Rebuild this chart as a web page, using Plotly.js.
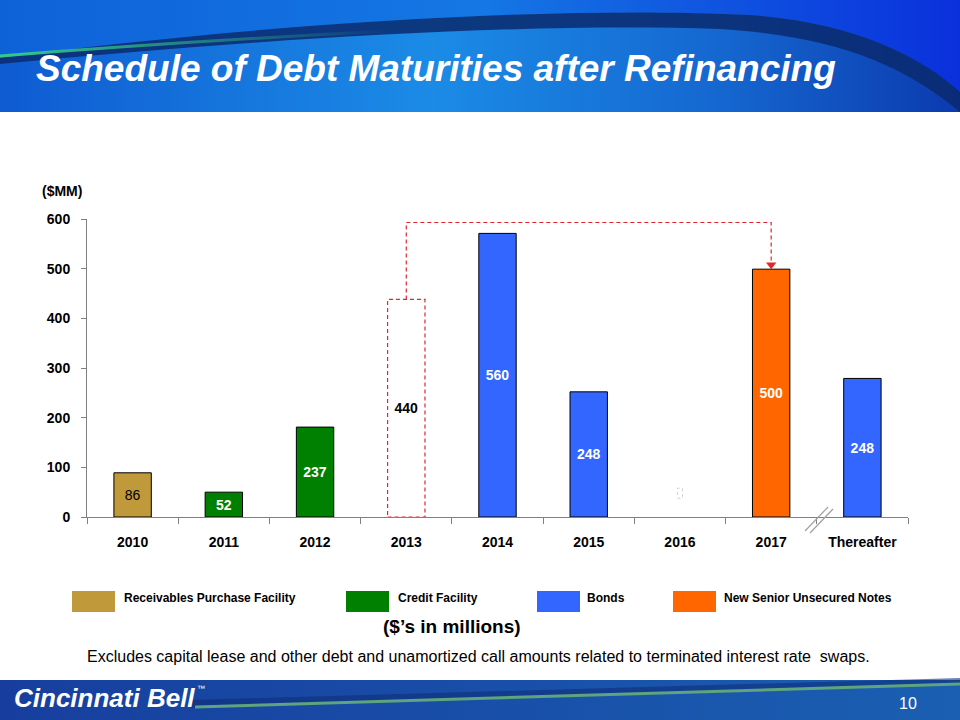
<!DOCTYPE html>
<html>
<head>
<meta charset="utf-8">
<script src="https://cdn.plot.ly/plotly-3.0.1.min.js"></script>
<style>
  html, body { margin: 0; padding: 0; background: #ffffff; }
  #wrap { position: relative; width: 960px; height: 720px; overflow: hidden; background: #ffffff; }
  #bg { position: absolute; left: 0; top: 0; }
  #chart { position: absolute; left: 0; top: 0; width: 960px; height: 720px; }
</style>
</head>
<body>
<div id="wrap">
  <svg id="bg" width="960" height="720" xmlns="http://www.w3.org/2000/svg">
    <defs>
      <linearGradient id="hdr" x1="0" y1="0" x2="1" y2="0">
        <stop offset="0" stop-color="#0f5bd2"/>
        <stop offset="0.45" stop-color="#1b8be6"/>
        <stop offset="0.75" stop-color="#1567d0"/>
        <stop offset="1" stop-color="#0c3aae"/>
      </linearGradient>
      <linearGradient id="hdrTop" x1="0" y1="0" x2="1" y2="0">
        <stop offset="0" stop-color="#0e62d8"/>
        <stop offset="0.5" stop-color="#1577e4"/>
        <stop offset="1" stop-color="#0a30dc"/>
      </linearGradient>
      <linearGradient id="grn" x1="0" y1="0" x2="1" y2="0">
        <stop offset="0" stop-color="#35c98a" stop-opacity="1"/>
        <stop offset="1" stop-color="#35c98a" stop-opacity="0"/>
      </linearGradient>
      <linearGradient id="ftr" x1="0" y1="0" x2="1" y2="0">
        <stop offset="0" stop-color="#173e9e"/>
        <stop offset="1" stop-color="#1a5fb2"/>
      </linearGradient>
    </defs>
    <rect x="0" y="0" width="960" height="112" fill="url(#hdr)"/>
    <path d="M0,0 L960,0 L960,92 C920,55 850,22 750,15 C550,5 250,25 0,58 Z" fill="url(#hdrTop)"/>
    <path d="M0,58 C250,25 550,5 750,15 C850,22 920,55 960,92 L960,112 C900,62 830,36 720,29 C520,22 250,40 0,64 Z" fill="#0b2a6e" fill-opacity="0.85"/>
    <path d="M0,56 C100,48 250,38 390,31" stroke="url(#grn)" stroke-width="3" fill="none"/>
    <rect x="0" y="680" width="960" height="40" fill="url(#ftr)"/>
    <path d="M190,700 L960,678 L960,684 L190,708 Z" fill="#0f2f78" fill-opacity="0.6"/>
    <path d="M195,707 L960,684" stroke="#5ea47e" stroke-width="3" fill="none"/>
  </svg>
  <div id="chart"></div>
</div>
<script>
// ---------------- data ----------------
const categories = ['2010', '2011', '2012', '2013', '2014', '2015', '2016', '2017', 'Thereafter'];
const seriesNames = ['Receivables Purchase Facility', 'Credit Facility', 'Bonds', 'New Senior Unsecured Notes'];
const seriesColors = ['#C0993A', '#008000', '#3366FF', '#FF6600'];

const rpfYears = ['2010'];
const rpfHeights = [89];
const rpfLabels = ['86'];

const cfYears = ['2011', '2012'];
const cfHeights = [50, 181];
const cfLabels = ['52', '237'];

const bondYears = ['2014', '2015', 'Thereafter'];
const bondHeights = [571, 252, 279];
const bondLabels = ['560', '248', '248'];

const notesYears = ['2017'];
const notesHeights = [499];
const notesLabels = ['500'];

const refiYears = ['2013'];
const refiHeights = [438];
const refiLabels = ['440'];
const refiTarget = '2017';

const yTickVals = [0, 100, 200, 300, 400, 500, 600];

// ---------------- layout helpers ----------------
const W = 960, H = 720;
const L = 87, R = 908, T = 219, B = 517;
const px = x => (x - L) / (R - L);
const py = y => (B - y) / (B - T);
const BAR_W = 0.41;
const FONT = 'Liberation Sans, Arial, sans-serif';

function barTrace(x, y, text, color, txtColor, weight, name) {
  return {
    type: 'bar', x: x, y: y, text: text, name: name,
    width: BAR_W,
    marker: { color: color, line: { color: '#000000', width: 1 } },
    textposition: 'inside', insidetextanchor: 'middle', textangle: 0,
    constraintext: 'none',
    textfont: { family: FONT, size: 14, color: txtColor, weight: weight },
    hoverinfo: 'x+y', showlegend: false, cliponaxis: false
  };
}

const traces = [
  barTrace(rpfYears, rpfHeights, rpfLabels, seriesColors[0], '#000000', 'normal', seriesNames[0]),
  barTrace(cfYears, cfHeights, cfLabels, seriesColors[1], '#ffffff', 'bold', seriesNames[1]),
  barTrace(bondYears, bondHeights, bondLabels, seriesColors[2], '#ffffff', 'bold', seriesNames[2]),
  barTrace(notesYears, notesHeights, notesLabels, seriesColors[3], '#ffffff', 'bold', seriesNames[3]),
  {
    type: 'bar', x: refiYears, y: refiHeights, text: refiLabels, width: BAR_W,
    marker: { color: 'rgba(255,255,255,0)', line: { width: 0 } },
    textposition: 'inside', insidetextanchor: 'middle', textangle: 0, constraintext: 'none',
    textfont: { family: FONT, size: 14, color: '#000000', weight: 'bold' },
    showlegend: false, hoverinfo: 'x+y'
  }
];

// connector from refinanced 2013 to 2017 notes
const connTop = 593;
traces.push({
  type: 'scatter', mode: 'lines',
  x: [refiYears[0], refiYears[0], refiTarget, refiTarget],
  y: [refiHeights[0], connTop, connTop, notesHeights[0] + 12],
  line: { color: '#E3262B', width: 1.2, dash: '4px,3px' },
  showlegend: false, hoverinfo: 'skip', cliponaxis: false
});
traces.push({
  type: 'scatter', mode: 'markers',
  x: [refiTarget], y: [notesHeights[0] + 9],
  marker: { symbol: 'triangle-down', size: 9, color: '#E3262B' },
  showlegend: false, hoverinfo: 'skip', cliponaxis: false
});

const i2013 = categories.indexOf(refiYears[0]);
const i2016 = categories.indexOf('2016');

const shapes = [
  { type: 'rect', xref: 'x', yref: 'y', x0: i2013 - BAR_W / 2, x1: i2013 + BAR_W / 2, y0: 0, y1: refiHeights[0],
    line: { color: '#E3262B', width: 1.2, dash: '4px,3px' }, fillcolor: 'rgba(0,0,0,0)', layer: 'above' },
  { type: 'rect', xref: 'x', yref: 'y', x0: i2016 - 0.028, x1: i2016 + 0.028, y0: 38, y1: 58,
    line: { color: '#d0d0d0', width: 1, dash: 'dot' }, fillcolor: 'rgba(0,0,0,0)' },
  { type: 'line', xref: 'paper', yref: 'paper', x0: px(805), y0: py(531), x1: px(828), y1: py(507),
    line: { color: '#a0a0a0', width: 1.2 } },
  { type: 'line', xref: 'paper', yref: 'paper', x0: px(810), y0: py(533), x1: px(833), y1: py(509),
    line: { color: '#a0a0a0', width: 1.2 } }
];

// custom legend
const legSwatchX = [72, 346, 537, 673];
const legTextX = [122, 396, 585, 722];
const annotations = [];
seriesNames.forEach((n, i) => {
  shapes.push({ type: 'rect', xref: 'paper', yref: 'paper',
    x0: px(legSwatchX[i]), x1: px(legSwatchX[i] + 43), y0: py(612), y1: py(591),
    fillcolor: seriesColors[i], line: { width: 0 } });
  annotations.push({ xref: 'paper', yref: 'paper', x: px(legTextX[i]), y: py(598),
    xanchor: 'left', yanchor: 'middle', showarrow: false, text: n,
    font: { family: FONT, size: 12, color: '#000000', weight: 'bold' } });
});

annotations.push(
  { xref: 'paper', yref: 'paper', x: px(62), y: py(191), xanchor: 'center', yanchor: 'middle',
    showarrow: false, text: '($MM)', font: { family: FONT, size: 14, color: '#000000', weight: 'bold' } },
  { xref: 'paper', yref: 'paper', x: px(452), y: py(626), xanchor: 'center', yanchor: 'middle',
    showarrow: false, text: '($’s in millions)', font: { family: FONT, size: 19, color: '#000000', weight: 'bold' } },
  { xref: 'paper', yref: 'paper', x: px(478), y: py(656), xanchor: 'center', yanchor: 'middle',
    showarrow: false, text: 'Excludes capital lease and other debt and unamortized call amounts related to terminated interest rate  swaps.',
    font: { family: FONT, size: 16, color: '#000000' } },
  { xref: 'paper', yref: 'paper', x: px(12), y: py(698), xanchor: 'left', yanchor: 'middle',
    showarrow: false, text: 'Cincinnati Bell',
    font: { family: FONT, size: 26, color: '#ffffff', weight: 'bold', style: 'italic' } },
  { xref: 'paper', yref: 'paper', x: px(195), y: py(688), xanchor: 'left', yanchor: 'middle',
    showarrow: false, text: '™',
    font: { family: FONT, size: 8, color: '#ffffff' } },
  { xref: 'paper', yref: 'paper', x: px(908), y: py(703), xanchor: 'center', yanchor: 'middle',
    showarrow: false, text: '10', font: { family: FONT, size: 16, color: '#ffffff' } }
);

const layout = {
  width: W, height: H,
  margin: { l: L, r: W - R, t: T, b: H - B, pad: 0 },
  paper_bgcolor: 'rgba(0,0,0,0)', plot_bgcolor: 'rgba(0,0,0,0)',
  barmode: 'overlay',
  showlegend: false,
  title: { text: 'Schedule of Debt Maturities after Refinancing', xref: 'container', yref: 'container',
    x: 36 / W, xanchor: 'left', y: 1 - 68 / H, yanchor: 'middle',
    font: { family: FONT, size: 37, color: '#ffffff', weight: 'bold', style: 'italic' } },
  xaxis: {
    type: 'category', categoryorder: 'array', categoryarray: categories,
    range: [-0.5, categories.length - 0.5], fixedrange: true,
    showline: true, linecolor: '#808080', linewidth: 1,
    ticks: 'outside', tickson: 'boundaries', ticklen: 6, tickcolor: '#808080',
    showgrid: false, zeroline: false,
    tickfont: { family: FONT, size: 14, color: '#000000', weight: 'bold' },
    ticklabelstandoff: 12
  },
  yaxis: {
    range: [0, 600], tickvals: yTickVals, fixedrange: true,
    showline: true, linecolor: '#808080', linewidth: 1,
    ticks: 'outside', ticklen: 5, tickcolor: '#808080',
    showgrid: false, zeroline: false,
    tickfont: { family: FONT, size: 14, color: '#000000', weight: 'bold' },
    ticklabelstandoff: 8
  },
  shapes: shapes,
  annotations: annotations,
  font: { family: FONT }
};

Plotly.newPlot('chart', traces, layout, { displayModeBar: false, staticPlot: true });
</script>
</body>
</html>
